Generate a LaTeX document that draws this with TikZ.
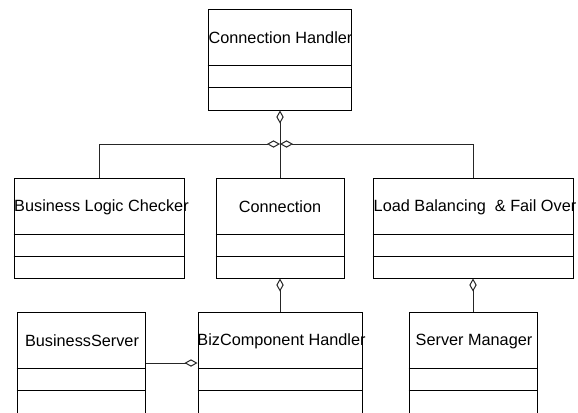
\documentclass[tikz,border=0pt]{standalone}
\usepackage{fontspec}
\setmainfont{Liberation Sans}
\usetikzlibrary{arrows.meta,fit,calc}
\newcommand\classbox[7]{%
  \node[frame, fit={(#2,#3)(#4,#5)}] (#1) {};
  \node[title] (#1-title) at ($(#1.north)+(#7,29.5)$) {#6};
  \draw[frame] ($(#1.north west)+(0,57)$) -- ($(#1.north east)+(0,57)$);
  \draw[frame] ($(#1.north west)+(0,79)$) -- ($(#1.north east)+(0,79)$);
}
\begin{document}
\begin{tikzpicture}[x=0.75pt,y=-0.75pt,
  frame/.style={draw=black, line width=0.75pt, inner sep=0pt},
  title/.style={font=\fontsize{12.2pt}{14pt}\selectfont, text=black, inner sep=0pt},
  agg/.style={draw=black!85, line width=0.75pt, -{Diamond[open, length=9.75pt, width=5.5pt, line width=0.75pt]}}]
\useasboundingbox (0,0) rectangle (578,412);
\clip (0,0) rectangle (578,412);
\fill[white] (0,0) rectangle (578,412);
\classbox{ch}{208}{9}{351}{110}{Connection Handler}{1}
\classbox{blc}{14}{178}{184}{278}{Business Logic Checker}{2.5}
\classbox{cn}{216}{178}{344}{278}{Connection}{0}
\classbox{lb}{373}{178}{573}{278}{Load Balancing\ \ \& Fail Over}{2}
\classbox{bs}{17}{312}{145}{414}{BusinessServer}{1}
\classbox{bch}{198}{312}{362}{414}{BizComponent Handler}{1.5}
\classbox{sm}{409}{312}{537}{414}{Server Manager}{1}
\coordinate (j) at (280,144);
\draw[agg] (cn.north) -- (cn.north |- ch.south);
\draw[agg] (blc.north) |- (j);
\draw[agg] (lb.north) |- (j);
\draw[agg] (bch.north -| cn.south) -- (cn.south);
\draw[agg] (sm.north -| lb.south) -- (lb.south);
\draw[agg] (bs.east) -- (bch.west);
\end{tikzpicture}
\end{document}
